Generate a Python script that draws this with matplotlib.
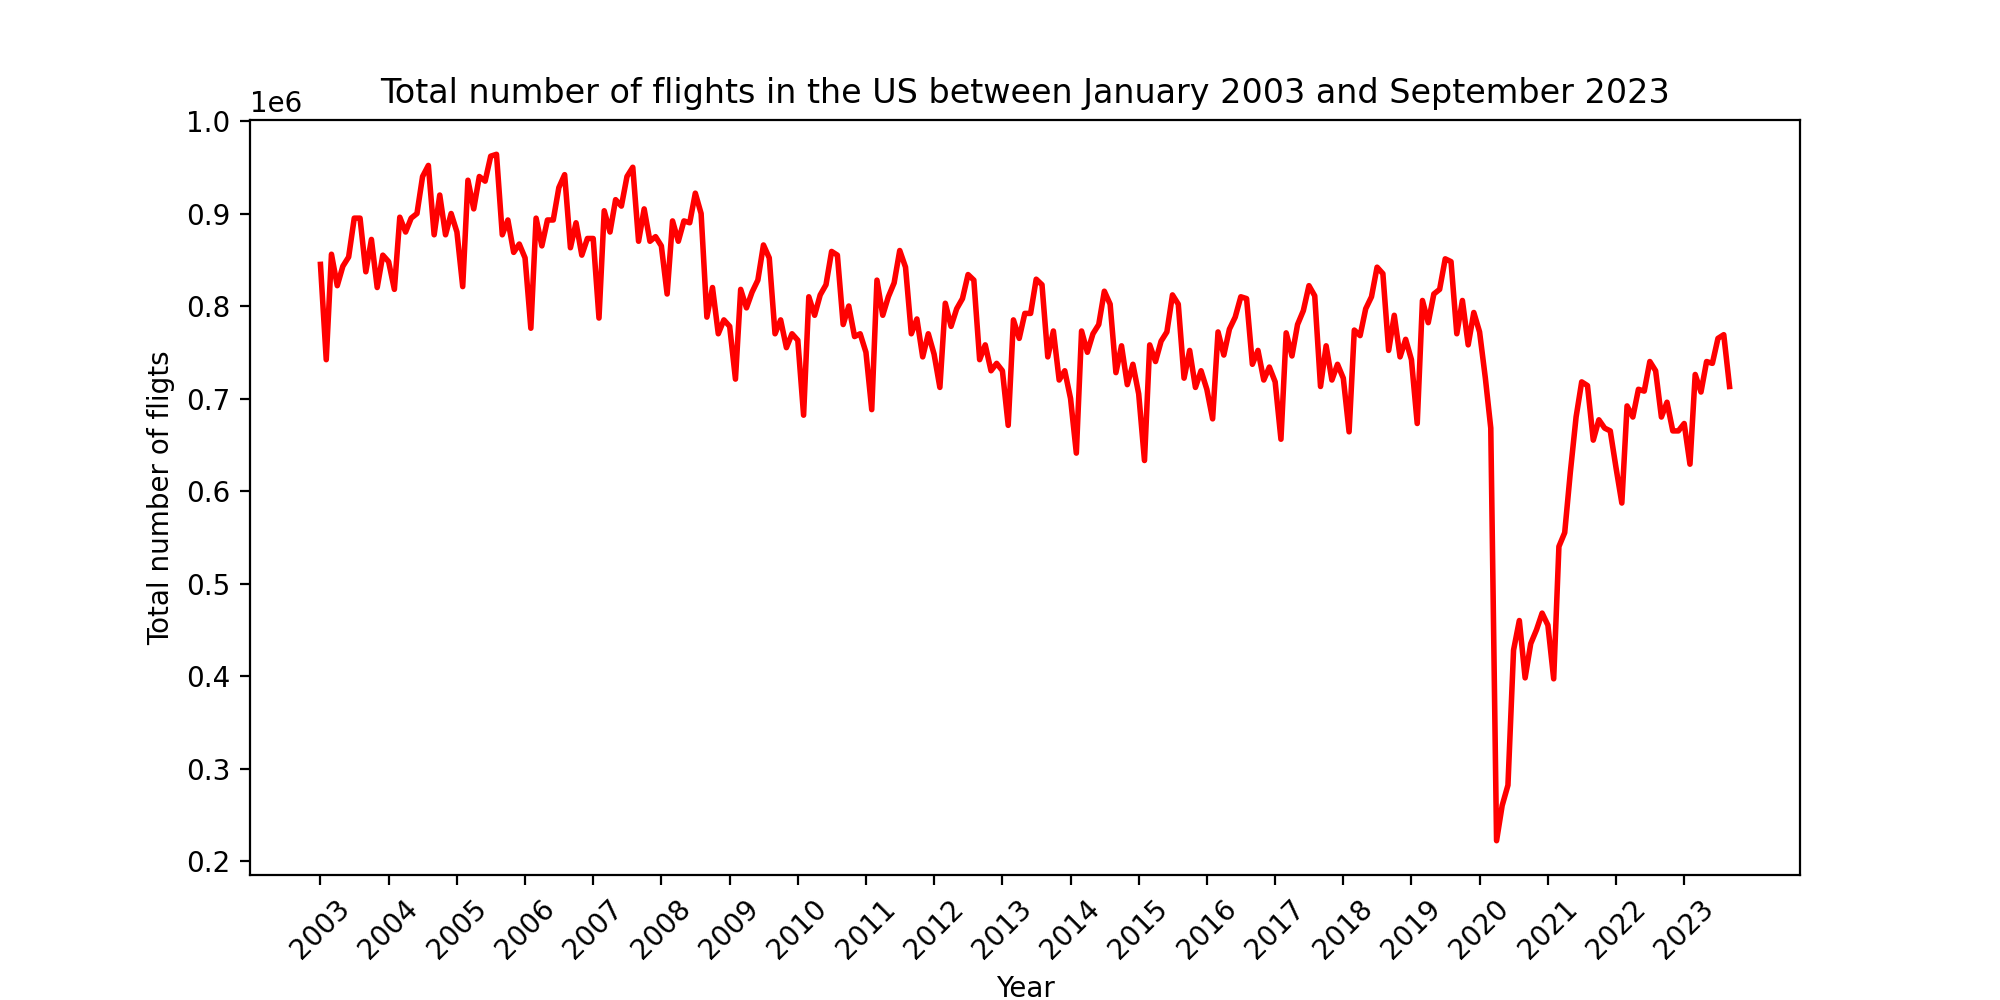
import matplotlib
matplotlib.use("Agg")
import matplotlib.pyplot as plt
import pandas as pd

# monthly flight totals (millions), Jan 2003 .. Sep 2023
y2003 = [0.845, 0.742, 0.856, 0.822, 0.843, 0.853, 0.895, 0.895, 0.837, 0.872, 0.820, 0.855]
y2004 = [0.848, 0.818, 0.896, 0.880, 0.895, 0.900, 0.940, 0.952, 0.877, 0.920, 0.877, 0.900]
y2005 = [0.880, 0.821, 0.936, 0.905, 0.940, 0.935, 0.962, 0.964, 0.877, 0.893, 0.858, 0.867]
y2006 = [0.852, 0.776, 0.895, 0.865, 0.893, 0.893, 0.928, 0.942, 0.863, 0.890, 0.855, 0.873]
y2007 = [0.873, 0.787, 0.903, 0.880, 0.915, 0.908, 0.940, 0.950, 0.870, 0.905, 0.870, 0.875]
y2008 = [0.865, 0.813, 0.892, 0.870, 0.892, 0.890, 0.922, 0.900, 0.788, 0.820, 0.770, 0.785]
y2009 = [0.778, 0.721, 0.818, 0.798, 0.815, 0.828, 0.866, 0.852, 0.770, 0.785, 0.755, 0.770]
y2010 = [0.763, 0.682, 0.810, 0.790, 0.812, 0.823, 0.859, 0.855, 0.780, 0.800, 0.767, 0.770]
y2011 = [0.750, 0.688, 0.828, 0.790, 0.810, 0.825, 0.860, 0.842, 0.770, 0.786, 0.745, 0.770]
y2012 = [0.748, 0.712, 0.803, 0.778, 0.797, 0.808, 0.834, 0.828, 0.742, 0.758, 0.730, 0.738]
y2013 = [0.730, 0.671, 0.785, 0.765, 0.792, 0.792, 0.829, 0.823, 0.745, 0.773, 0.720, 0.730]
y2014 = [0.700, 0.641, 0.773, 0.750, 0.770, 0.780, 0.816, 0.802, 0.728, 0.757, 0.715, 0.737]
y2015 = [0.705, 0.633, 0.758, 0.740, 0.762, 0.772, 0.812, 0.802, 0.722, 0.752, 0.712, 0.730]
y2016 = [0.710, 0.678, 0.772, 0.747, 0.775, 0.788, 0.810, 0.808, 0.737, 0.752, 0.720, 0.734]
y2017 = [0.718, 0.656, 0.771, 0.746, 0.780, 0.795, 0.822, 0.811, 0.713, 0.757, 0.720, 0.737]
y2018 = [0.722, 0.664, 0.774, 0.768, 0.797, 0.810, 0.842, 0.835, 0.752, 0.790, 0.745, 0.764]
y2019 = [0.742, 0.673, 0.806, 0.782, 0.813, 0.818, 0.851, 0.848, 0.770, 0.806, 0.758, 0.793]
y2020 = [0.772, 0.722, 0.668, 0.222, 0.260, 0.282, 0.428, 0.460, 0.398, 0.435, 0.450, 0.468]
y2021 = [0.455, 0.397, 0.540, 0.555, 0.620, 0.680, 0.718, 0.714, 0.655, 0.677, 0.668, 0.665]
y2022 = [0.625, 0.587, 0.692, 0.680, 0.710, 0.708, 0.740, 0.730, 0.680, 0.696, 0.665, 0.665]
y2023 = [0.673, 0.629, 0.726, 0.707, 0.740, 0.738, 0.765, 0.769, 0.713]

years = list(range(2003, 2024))
values = (y2003 + y2004 + y2005 + y2006 + y2007 + y2008 + y2009 + y2010 + y2011
          + y2012 + y2013 + y2014 + y2015 + y2016 + y2017 + y2018 + y2019
          + y2020 + y2021 + y2022 + y2023)
flights = [v * 1e6 for v in values]
dates = pd.date_range("2003-01-01", periods=len(flights), freq="MS")

fig, ax = plt.subplots(figsize=(10, 5))
fig.subplots_adjust(bottom=0.125)
ax.plot(dates, flights, color="red", linewidth=2)
ax.set_xticks([pd.Timestamp(f"{y}-01-01") for y in years])
ax.set_xticklabels([str(y) for y in years], rotation=45)
ax.set_xlabel("Year")
ax.set_ylabel("Total number of fligts")
ax.set_title("Total number of flights in the US between January 2003 and September 2023")
fig.savefig("out.png", dpi=200)
